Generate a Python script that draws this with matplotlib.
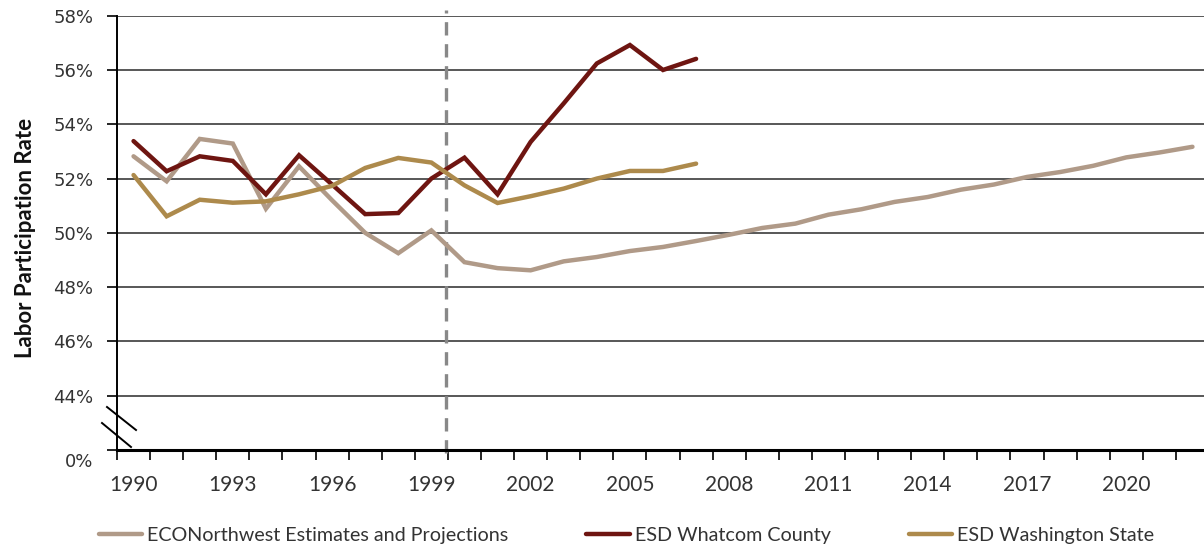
import numpy as np
import matplotlib
matplotlib.use("Agg")
from matplotlib import pyplot as plt
from matplotlib.lines import Line2D
from matplotlib.transforms import ScaledTranslation

###########
# Entries #
###########

years = list(range(1990, 2023))

econ = [52.82, 51.90, 53.46, 53.29, 50.89, 52.45, 51.20, 50.00, 49.25, 50.09,
        48.92, 48.70, 48.62, 48.95, 49.11, 49.33, 49.48, 49.70, 49.93, 50.18,
        50.34, 50.67, 50.87, 51.14, 51.32, 51.59, 51.78, 52.06, 52.24, 52.47,
        52.78, 52.96, 53.17]

whatcom = [53.38, 52.27, 52.82, 52.65, 51.42, 52.86, 51.78, 50.69, 50.73, 52.00,
           52.77, 51.42, 53.35, 54.77, 56.24, 56.92, 56.00, 56.41]

washington = [52.13, 50.61, 51.22, 51.11, 51.16, 51.42, 51.73, 52.39, 52.76, 52.59,
              51.75, 51.10, 51.35, 51.63, 52.00, 52.28, 52.28, 52.55]

series_names = ["ECONorthwest Estimates and Projections",
                "ESD Whatcom County",
                "ESD Washington State"]
series_colors = ["#B09A88", "#6E1511", "#AD8A4C"]

ytick_vals = [42, 44, 46, 48, 50, 52, 54, 56, 58]
ytick_labels = ["0%", "44%", "46%", "48%", "50%", "52%", "54%", "56%", "58%"]

##########
# Script #
##########

W, H = 1204, 548
fig = plt.figure(figsize=(W / 100, H / 100), dpi=100)
ax = fig.add_axes([117 / W, 1 - 450 / H, (1209 - 117) / W, (450 - 15.7) / H])

x = np.arange(len(years)) + 0.5
for vals, name, col in zip([econ, whatcom, washington], series_names, series_colors):
    ax.plot(x[:len(vals)], vals, color=col, lw=3.2, label=name,
            solid_capstyle="round", solid_joinstyle="miter", zorder=3)

ax.set_xlim(0, len(years))
ax.set_ylim(42, 58)

# grid
for v in ytick_vals[1:]:
    ax.axhline(v, color="#2a2a2a", lw=1.1, zorder=1)

# dashed separator
ax.axvline(9.95, ymin=-0.007, ymax=1.013, color="#888888", lw=2.4,
           dashes=(4, 2.6), clip_on=False, zorder=2)

# spines
for s in ["top", "right"]:
    ax.spines[s].set_visible(False)
ax.spines["bottom"].set_linewidth(2.2)
ax.spines["left"].set_linewidth(1.4)

# x ticks: boundaries as tick marks, labels at centers every 3 years
ax.set_xticks(np.arange(0, len(years) + 1))
ax.tick_params(axis="x", which="major", length=7, width=1.2, labelbottom=False)
ax.set_xticks(x[::3], minor=True)
ax.set_xticklabels([str(y) for y in years[::3]], minor=True)
ax.tick_params(axis="x", which="minor", length=0, pad=18,
               labelsize=15, labelcolor="#333333")
for lab in ax.get_xticklabels(minor=True):
    lab.set_family("Lato")

ax.set_yticks(ytick_vals)
ax.set_yticklabels(ytick_labels)
ax.tick_params(axis="y", length=7, width=1.2, pad=10, labelsize=13,
               labelcolor="#333333")
ylabs = ax.get_yticklabels()
ylabs[0].set_transform(ylabs[0].get_transform() +
                       ScaledTranslation(0, -0.10, fig.dpi_scale_trans))

# axis break marks
for (x0, y0, x1, y1) in [(107, 407, 136, 430), (102, 423, 131, 447)]:
    fig.add_artist(Line2D([x0 / W, x1 / W], [1 - y0 / H, 1 - y1 / H],
                          transform=fig.transFigure, color="black", lw=1.4))

fig.text(26 / W, 1 - 238 / H, "Labor Participation Rate", rotation=90,
         ha="center", va="center", fontsize=16, family="Lato",
         weight="bold", color="#111111")

fig.legend(loc="center left", bbox_to_anchor=(99 / W, 1 - 535 / H), ncol=3,
           frameon=False, prop={"family": "Lato", "size": 14.2},
           handlelength=2.2, handletextpad=0.25, columnspacing=3.95,
           borderaxespad=0, borderpad=0, labelcolor="#333333")

fig.savefig("out.png", dpi=100)
